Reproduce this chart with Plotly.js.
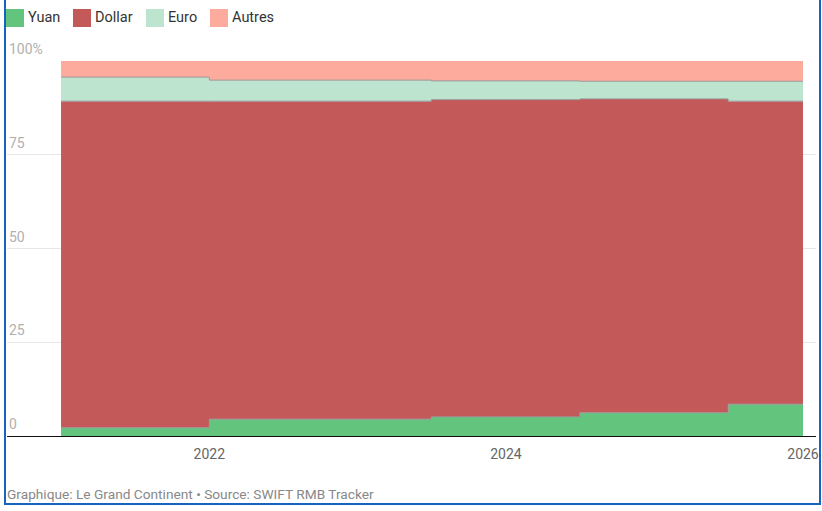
<!DOCTYPE html>
<html>
<head>
<meta charset="utf-8">
<script src="https://cdn.plot.ly/plotly-3.0.1.min.js"></script>
<style>
  body { margin: 0; overflow: hidden; background: #fff; }
  #chart { position: absolute; left: 0; top: 0; width: 822px; height: 511px; }
  #frame { position: absolute; left: 4px; top: -10px; width: 817px; height: 515px;
           box-sizing: border-box; border: 2px solid #1565c0; pointer-events: none; }
</style>
</head>
<body>
<div id="chart"></div>
<div id="frame"></div>
<script>
// periodes (marches d'escalier), la derniere ferme le dernier palier
let dates = ['2021-01-01', '2022-01-01', '2023-07-01', '2024-07-01', '2025-07-01', '2026-01-01'];

let yuan   = [2.2, 4.5, 5.1, 6.2, 8.5, 8.5];
let dollar = [87.1, 84.8, 84.6, 83.7, 80.8, 80.8];
let euro   = [6.4, 5.6, 5.0, 4.7, 5.3, 5.3];
let autres = [4.3, 5.1, 5.3, 5.4, 5.4, 5.4];

let names = ['Yuan', 'Dollar', 'Euro', 'Autres'];
let xTickVals = ['2022-01-01', '2024-01-01', '2026-01-01'];
let xTickText = ['2022', '2024', '2026'];
let yTickVals = [0, 25, 50, 75, 100];
let yTickText = ['0', '25', '50', '75', '100%'];
let source = 'Graphique: Le Grand Continent • Source: SWIFT RMB Tracker';

let colors = ['#63c47e', '#c45959', '#bde4cf', '#fdab9d'];
let series = [yuan, dollar, euro, autres];

// px -> paper, marges du graphique
let L = 7, R = 6, T = 61, B = 75, W = 822, H = 511;
let pw = W - L - R, ph = H - T - B;
function px(x) { return (x - L) / pw; }
function py(y) { return (H - B - y) / ph; }

let data = [];
for (let i = 0; i < series.length; ++i) {
    data.push({
        x: dates,
        y: series[i],
        name: names[i],
        type: 'scatter',
        mode: 'lines',
        stackgroup: 'one',
        fillcolor: colors[i],
        line: { shape: 'hv', width: i == 3 ? 0 : 1, color: '#9a9a9a' },
        hoverinfo: 'skip',
        showlegend: false
    });
}

let annotations = [];
let shapes = [];

// etiquettes de l'axe y, au-dessus des lignes de grille
for (let i = 0; i < yTickVals.length; ++i) {
    annotations.push({
        xref: 'paper', yref: 'y',
        x: 0, y: yTickVals[i],
        xanchor: 'left', yanchor: 'middle',
        yshift: 12,
        text: yTickText[i],
        showarrow: false,
        font: { family: 'Roboto', size: 14, color: '#b0b0b0' }
    });
}

// legende a la main (carres)
let legendX = [6, 73, 146, 210];
for (let i = 0; i < names.length; ++i) {
    shapes.push({
        type: 'rect', xref: 'paper', yref: 'paper',
        x0: px(legendX[i]), x1: px(legendX[i] + 18),
        y0: py(27), y1: py(9),
        fillcolor: colors[i], line: { width: 0 }
    });
    annotations.push({
        xref: 'paper', yref: 'paper',
        x: px(legendX[i] + 20), y: py(18),
        xanchor: 'left', yanchor: 'middle',
        text: names[i], showarrow: false,
        font: { family: 'Roboto', size: 14.5, color: '#333' }
    });
}

annotations.push({
    xref: 'paper', yref: 'paper',
    x: px(5), y: py(494),
    xanchor: 'left', yanchor: 'middle',
    text: source, showarrow: false,
    font: { family: 'Roboto', size: 13.7, color: '#888' }
});

let layout = {
    width: W, height: H,
    margin: { l: L, r: R, t: T, b: B },
    paper_bgcolor: '#fff',
    plot_bgcolor: '#fff',
    showlegend: false,
    xaxis: {
        type: 'date',
        range: ['2020-08-21', '2026-02-02'],
        tickvals: xTickVals,
        ticktext: xTickText,
        showgrid: false,
        zeroline: false,
        showline: true,
        linecolor: '#111',
        linewidth: 1,
        ticks: '',
        ticklabelstandoff: 5,
        tickfont: { family: 'Roboto', size: 14, color: '#666' }
    },
    yaxis: {
        range: [0, 100],
        tickvals: yTickVals,
        showticklabels: false,
        showgrid: true,
        gridcolor: '#e6e6e6',
        gridwidth: 1,
        zeroline: false,
        fixedrange: true
    },
    annotations: annotations,
    shapes: shapes
};

Plotly.newPlot('chart', data, layout, { displayModeBar: false, staticPlot: true });
</script>
</body>
</html>
